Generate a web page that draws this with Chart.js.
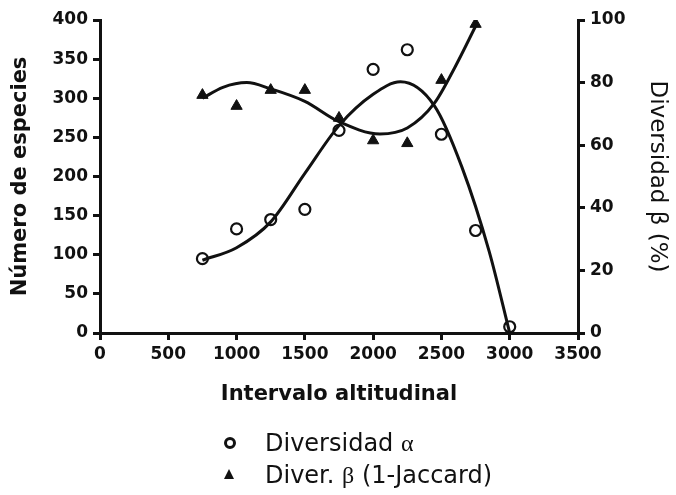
<!DOCTYPE html>
<html>
<head>
<meta charset="utf-8">
<script src="https://cdn.jsdelivr.net/npm/chart.js@4"></script>
<style>
  html, body { margin: 0; padding: 0; background: #fff; }
  #wrap { position: relative; width: 676px; height: 495px; }
  #c { position: absolute; left: 0; top: 0; }
  .leg { position: absolute; left: 265px; font: 24px 'DejaVu Sans', sans-serif; color: #111; line-height: 28px; white-space: nowrap; }
  .greek { font-family: 'Liberation Serif', serif; }
  .mk-circle { position: absolute; width: 6px; height: 6px; border: 3px solid #111; border-radius: 50%; }
  .mk-tri { position: absolute; width: 0; height: 0; border-left: 5.5px solid transparent; border-right: 5.5px solid transparent; border-bottom: 10px solid #111; }
</style>
</head>
<body>
<div id="wrap">
  <canvas id="c" width="676" height="495"></canvas>
  <div class="mk-circle" style="left:224px; top:437px;"></div>
  <div class="leg" style="top:429px;">Diversidad <span class="greek">α</span></div>
  <div class="mk-tri" style="left:224px; top:469px;"></div>
  <div class="leg" style="top:461px;">Diver. <span class="greek">β</span> (1-Jaccard)</div>
</div>
<script>
// Observed points
const alphaX = [750, 1000, 1250, 1500, 1750, 2000, 2250, 2500, 2750, 3000];
const alphaY = [95, 133, 145, 158, 259, 337, 362, 254, 131, 8];
const betaX = [750, 1000, 1250, 1500, 1750, 2000, 2250, 2500, 2750];
const betaY = [76, 72.5, 77.6, 77.6, 68.7, 61.5, 60.6, 80.8, 98.7];

// Fitted curves
const alphaCurveX = [750, 1000, 1250, 1500, 1750, 2000, 2200, 2450, 2650, 2850, 3000];
const alphaCurveY = [93, 109, 142, 204, 265, 305, 321, 290, 212, 104, 0];
const betaCurveX = [750, 900, 1075, 1250, 1500, 1750, 2050, 2250, 2450, 2600, 2750];
const betaCurveY = [75, 78.5, 80, 78, 74, 67.5, 63.6, 65.5, 73.5, 85, 98];

// Axis tick settings
const xTicks = { min: 0, max: 3500, step: 500 };
const yLeftTicks = { min: 0, max: 400, step: 50 };
const yRightTicks = { min: 0, max: 100, step: 20 };

const toXY = (xs, ys) => xs.map((x, i) => ({ x: x, y: ys[i] }));
const INK = '#111';
const tickFont = { family: "'DejaVu Sans'", size: 17, weight: 'bold' };
const plain = (v) => String(v);

new Chart(document.getElementById('c'), {
  type: 'scatter',
  data: {
    datasets: [
      {
        label: 'Diversidad α curve',
        type: 'line',
        data: toXY(alphaCurveX, alphaCurveY),
        yAxisID: 'y',
        borderColor: INK,
        borderWidth: 3,
        pointRadius: 0,
        fill: false,
        cubicInterpolationMode: 'monotone'
      },
      {
        label: 'Diver. β curve',
        type: 'line',
        data: toXY(betaCurveX, betaCurveY),
        yAxisID: 'y1',
        borderColor: INK,
        borderWidth: 3,
        pointRadius: 0,
        fill: false,
        cubicInterpolationMode: 'monotone'
      },
      {
        label: 'Diversidad α',
        data: toXY(alphaX, alphaY),
        yAxisID: 'y',
        pointStyle: 'circle',
        pointRadius: 5.5,
        borderWidth: 2.2,
        borderColor: INK,
        backgroundColor: 'rgba(0,0,0,0)'
      },
      {
        label: 'Diver. β (1-Jaccard)',
        data: toXY(betaX, betaY),
        yAxisID: 'y1',
        pointStyle: 'triangle',
        pointRadius: 6.5,
        borderWidth: 1,
        borderColor: INK,
        backgroundColor: INK
      }
    ]
  },
  options: {
    responsive: false,
    animation: false,
    events: [],
    layout: { padding: { left: 0, right: 0, top: 20, bottom: 85 } },
    plugins: { legend: { display: false }, tooltip: { enabled: false } },
    scales: {
      x: {
        type: 'linear',
        position: 'bottom',
        min: xTicks.min, max: xTicks.max,
        afterFit: (s) => { s.height = 77; },
        ticks: { stepSize: xTicks.step, color: INK, font: tickFont, padding: 4, maxRotation: 0, callback: plain },
        grid: { drawOnChartArea: false, drawTicks: true, tickLength: 7, lineWidth: 3, color: INK },
        border: { display: true, width: 3, color: INK },
        title: { display: true, text: 'Intervalo altitudinal', color: INK,
                 font: { family: "'DejaVu Sans'", size: 21, weight: 'bold' }, padding: { top: 0, bottom: 3 } }
      },
      y: {
        type: 'linear',
        position: 'left',
        min: yLeftTicks.min, max: yLeftTicks.max,
        afterFit: (s) => { s.width = 100; },
        ticks: { stepSize: yLeftTicks.step, color: INK, font: tickFont, padding: 5, callback: plain },
        grid: { drawOnChartArea: false, drawTicks: true, tickLength: 7, lineWidth: 3, color: INK },
        border: { display: true, width: 3, color: INK },
        title: { display: true, text: 'Número de especies', color: INK,
                 font: { family: "'DejaVu Sans'", size: 21, weight: 'bold' }, padding: { top: 8, bottom: 0 } }
      },
      y1: {
        type: 'linear',
        position: 'right',
        min: yRightTicks.min, max: yRightTicks.max,
        afterFit: (s) => { s.width = 98; },
        ticks: { stepSize: yRightTicks.step, color: INK, font: tickFont, padding: 5, callback: plain },
        grid: { drawOnChartArea: false, drawTicks: true, tickLength: 7, lineWidth: 3, color: INK },
        border: { display: true, width: 3, color: INK },
        title: { display: true, text: 'Diversidad β (%)', color: INK,
                 font: { family: "'DejaVu Sans'", size: 23, weight: 'normal' }, padding: { top: 5, bottom: 0 } }
      }
    }
  }
});
</script>
</body>
</html>
